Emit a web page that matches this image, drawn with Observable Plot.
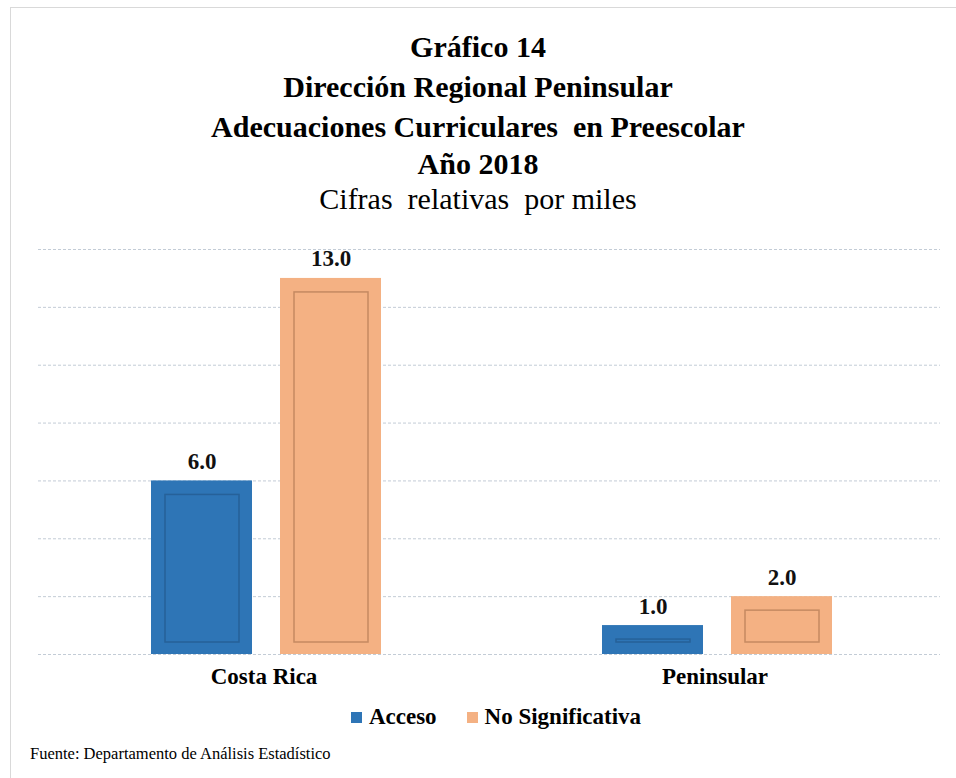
<!DOCTYPE html>
<html>
<head>
<meta charset="utf-8">
<script src="https://cdn.jsdelivr.net/npm/d3@7"></script>
<script src="https://cdn.jsdelivr.net/npm/@observablehq/plot@0.6"></script>
<style>
  html, body { margin: 0; padding: 0; background: #fff; }
  #page { position: relative; width: 956px; height: 778px; overflow: hidden; font-family: "Liberation Serif", "Times New Roman", serif; color: #000; }
  #frame { position: absolute; left: 10px; top: 7px; width: 960px; height: 800px; border-left: 1px solid #d9d9d9; border-top: 1px solid #d9d9d9; }
  .tl { position: absolute; left: 0; width: 956px; text-align: center; height: 40px; line-height: 40px; font-size: 30px; white-space: pre; }
  .b { font-weight: bold; }
  #chart { position: absolute; left: 0; top: 220px; }
  #legend { position: absolute; top: 705px; left: 18px; width: 956px; height: 24px; display: flex; justify-content: center; align-items: center; font-size: 23px; font-weight: bold; }
  .item { display: flex; align-items: center; margin: 0 15px; }
  .sw { width: 11px; height: 11px; margin-right: 7px; }
  #caption { position: absolute; left: 30px; top: 742px; font-size: 16.5px; line-height: 24px; }
</style>
</head>
<body>
<div id="page">
  <div id="frame"></div>
  <div class="tl b" style="top:27px">Gráfico 14</div>
  <div class="tl b" style="top:67px">Dirección Regional Peninsular</div>
  <div class="tl b" style="top:107px">Adecuaciones Curriculares  en Preescolar</div>
  <div class="tl b" style="top:144px">Año 2018</div>
  <div class="tl" style="top:179px">Cifras  relativas  por miles</div>
  <div id="chart"></div>
  <div id="legend"></div>
  <div id="caption">Fuente: Departamento de Análisis Estadístico</div>
</div>
<script>
const regions = ["Costa Rica", "Peninsular"];
const series = ["Acceso", "No Significativa"];
const acceso = [6.0, 1.0];
const noSignificativa = [13.0, 2.0];
const gridTicks = [0, 2, 4, 6, 8, 10, 12, 14];

const fillColors = ["#2e75b6", "#f4b183"];
const edgeColors = ["#1d4a75", "#8c5a3a"];
const font = '"Liberation Serif", "Times New Roman", serif';

const data = [];
regions.forEach((r, i) => {
  data.push({region: r, serie: series[0], value: acceso[i]});
  data.push({region: r, serie: series[1], value: noSignificativa[i]});
});

const chart = Plot.plot({
  width: 956,
  height: 480,
  marginTop: 29,
  marginBottom: 46,
  marginLeft: 38,
  marginRight: 16,
  style: {fontFamily: font, color: "#000", background: "transparent"},
  fx: {domain: regions, padding: 0, axis: null},
  x: {domain: series, paddingInner: 0.217, paddingOuter: 0.856, align: 0.51, axis: null},
  y: {domain: [0, 14], axis: null},
  color: {domain: series, range: fillColors},
  marks: [
    Plot.ruleY(gridTicks, {stroke: "#c3ccd6", strokeWidth: 1, strokeDasharray: "3,2"}),
    Plot.barY(data, {fx: "region", x: "serie", y: "value", fill: "serie"}),
    Plot.barY(data, {fx: "region", x: "serie", y: "value", fill: "none",
      stroke: d => edgeColors[series.indexOf(d.serie)], strokeOpacity: 0.45, strokeWidth: 1.5,
      insetLeft: 14, insetRight: 13, insetTop: 14, insetBottom: 12}),
    Plot.text(data, {fx: "region", x: "serie", y: "value", text: d => d.value.toFixed(1),
      dy: -12, lineAnchor: "bottom", fontWeight: "bold", fontSize: 23, fill: "#111"}),
    Plot.text(regions, {fx: d => d, frameAnchor: "bottom", dy: 29, text: d => d,
      fontWeight: "bold", fontSize: 23, fill: "#000"})
  ]
});
document.getElementById("chart").appendChild(chart);

const legend = document.getElementById("legend");
series.forEach((s, i) => {
  const item = document.createElement("div");
  item.className = "item";
  const sw = document.createElement("span");
  sw.className = "sw";
  sw.style.background = fillColors[i];
  const lab = document.createElement("span");
  lab.textContent = s;
  item.appendChild(sw);
  item.appendChild(lab);
  legend.appendChild(item);
});
</script>
</body>
</html>
